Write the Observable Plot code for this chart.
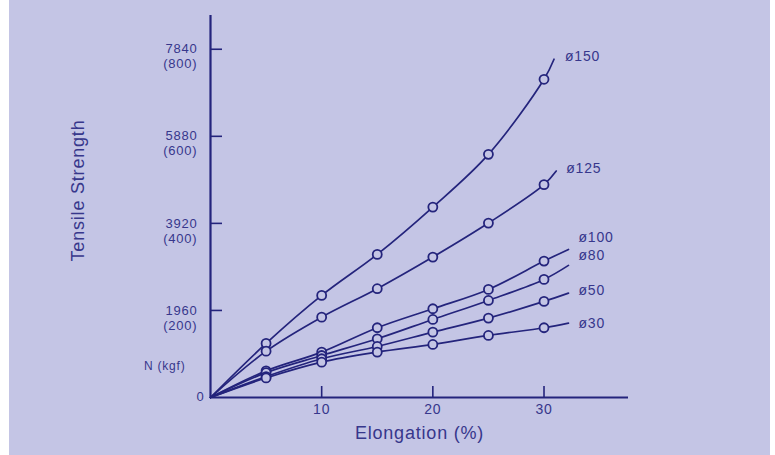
<!DOCTYPE html>
<html><head><meta charset="utf-8">
<script src="https://cdn.jsdelivr.net/npm/d3@7"></script>
<script src="https://cdn.jsdelivr.net/npm/@observablehq/plot@0.6"></script>
<style>
html,body{margin:0;padding:0;background:#fff;}
#chart{width:775px;height:455px;background:linear-gradient(to right,#ffffff 0px,#ffffff 9px,#c4c5e5 9px,#c4c5e5 770px,#ffffff 770px);}
#chart svg{display:block;}
#chart svg text{letter-spacing:0.8px;}
</style></head><body><div id="chart"></div>
<script>
// Elongation (%) at the marked points
const elongation = [0, 5, 10, 15, 20, 25, 30];
const seriesNames = ["ø150", "ø125", "ø100", "ø80", "ø50", "ø30"];
// Tensile strength (N)
const s150 = [0, 1217, 2298, 3222, 4287, 5474, 7164];
const s125 = [0, 1043, 1809, 2449, 3161, 3927, 4792];
const s100 = [0, 600, 1021, 1570, 1998, 2433, 3071];
const s80  = [0, 560, 946, 1322, 1757, 2185, 2658];
const s50  = [0, 470, 872, 1149, 1471, 1787, 2163];
const s30  = [0, 440, 795, 1021, 1194, 1397, 1570];
// where each curve stops (beyond the last marker)
const endElongation = [30.9, 31.1, 32.2, 32.2, 32.2, 32.2];
const endStrength   = [7615, 5098, 3334, 2974, 2350, 1674];
// tick labels
const xTicks = [10, 20, 30];
const yTicksN = [1960, 3920, 5880, 7840];
const yTicksKgf = ["(200)", "(400)", "(600)", "(800)"];

const allSeries = [s150, s125, s100, s80, s50, s30];
const lineData = [];
const markers = [];
const ends = [];
seriesNames.forEach((name, i) => {
  elongation.forEach((x, j) => {
    const row = {series: name, x, y: allSeries[i][j]};
    lineData.push(row);
    if (x > 0) markers.push(row);
  });
  const e = {series: name, x: endElongation[i], y: endStrength[i]};
  lineData.push(e);
  ends.push(e);
});

const W = 775, H = 455, mL = 210, mR = 147, mT = 15, mB = 58;
const ink = "#24247c", textInk = "#37378c", bg = "#c4c5e5";
const font = "Liberation Sans, Arial, Helvetica, sans-serif";
const labelDy = {"ø150": -3, "ø125": -3, "ø100": -12, "ø80": -10, "ø50": -3, "ø30": 0};
const labelDx = {"ø150": 11, "ø125": 10, "ø100": 10, "ø80": 10, "ø50": 10, "ø30": 10};

const chart = Plot.plot({
  width: W, height: H,
  marginLeft: mL, marginRight: mR, marginTop: mT, marginBottom: mB,
  x: {domain: [0, 37.6], axis: null},
  y: {domain: [0, 8600], axis: null},
  style: {background: "transparent", fontFamily: font, overflow: "visible"},
  marks: [
    Plot.ruleX([0], {stroke: ink, strokeWidth: 2.2}),
    Plot.ruleY([0], {stroke: ink, strokeWidth: 2.2}),
    Plot.ruleX(xTicks, {x: d => d, insetTop: (H - mT - mB) - 11, stroke: ink, strokeWidth: 1.6}),
    Plot.ruleY(yTicksN, {y: d => d, insetRight: (W - mL - mR) - 12, stroke: ink, strokeWidth: 1.6}),
    Plot.line(lineData, {x: "x", y: "y", z: "series", curve: "catmull-rom", stroke: ink, strokeWidth: 1.7}),
    Plot.dot(markers, {x: "x", y: "y", r: 4.5, stroke: ink, fill: bg, strokeWidth: 1.8}),
    ...ends.map(e => Plot.text([e], {x: "x", y: "y", text: "series", textAnchor: "start",
      dx: labelDx[e.series], dy: labelDy[e.series], fill: textInk, fontSize: 14})),
    Plot.text(xTicks, {x: d => d, text: d => String(d), frameAnchor: "bottom", dy: 16, fill: textInk, fontSize: 14}),
    Plot.text(yTicksN, {y: d => d, text: d => String(d), frameAnchor: "left", textAnchor: "end", dx: -13, fill: textInk, fontSize: 13}),
    Plot.text(yTicksN, {y: d => d, text: (d, i) => yTicksKgf[i], frameAnchor: "left", textAnchor: "end", dx: -13, dy: 15, fill: textInk, fontSize: 13}),
    Plot.text(["0"], {frameAnchor: "bottom-left", textAnchor: "end", dx: -6, dy: 3, fill: textInk, fontSize: 13}),
    Plot.text(["N (kgf)"], {frameAnchor: "bottom-left", textAnchor: "end", dx: -25, dy: -28, fill: textInk, fontSize: 12}),
    Plot.text(["Elongation (%)"], {frameAnchor: "bottom", dy: 41, fill: textInk, fontSize: 18}),
    Plot.text(["Tensile Strength"], {frameAnchor: "left", textAnchor: "middle", rotate: -90, dx: -132, dy: -16, fill: textInk, fontSize: 18})
  ]
});
document.getElementById("chart").appendChild(chart);
</script>
</body></html>
